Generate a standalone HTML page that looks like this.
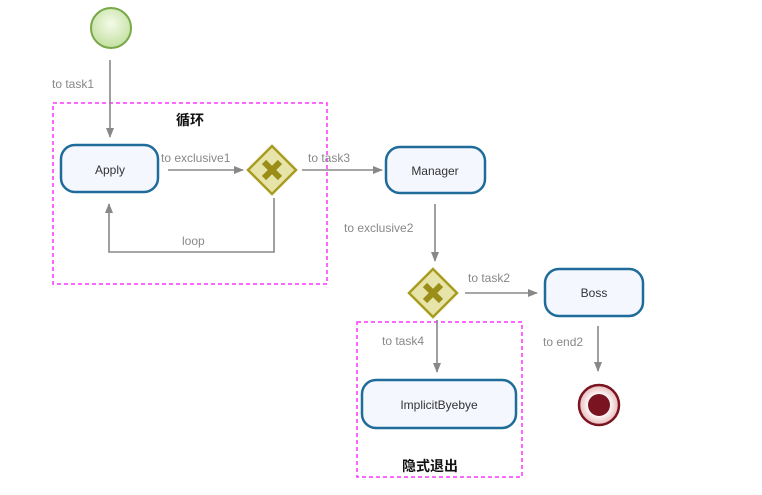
<!DOCTYPE html>
<html><head><style>body{margin:0;background:#fff}svg{display:block}</style></head><body>
<svg width="762" height="495" xmlns="http://www.w3.org/2000/svg" font-family="Liberation Sans, DejaVu Sans, sans-serif">
<defs>
<marker id="a" markerWidth="10" markerHeight="10" refX="9" refY="5" orient="auto" markerUnits="userSpaceOnUse"><path d="M0,1 L10,5 L0,9 z" fill="#888"/></marker>
<radialGradient id="gs" cx="50%" cy="40%" r="60%"><stop offset="0" stop-color="#f4fbe9"/><stop offset="1" stop-color="#c3e0a0"/></radialGradient>
<radialGradient id="ge" cx="50%" cy="50%" r="50%"><stop offset="0.5" stop-color="#fff"/><stop offset="1" stop-color="#e8b9b9"/></radialGradient>
</defs>
<g fill="none" stroke="#ff33ff" stroke-width="1.5" stroke-dasharray="4,3">
<rect x="53" y="103" width="274" height="181"/>
<rect x="357" y="322" width="165" height="155"/>
</g>
<g stroke="#888" stroke-width="1.6" fill="none" marker-end="url(#a)">
<line x1="110" y1="60" x2="110" y2="137"/>
<line x1="168" y1="170" x2="243" y2="170"/>
<line x1="302" y1="170" x2="382" y2="170"/>
<line x1="435" y1="204" x2="435" y2="261"/>
<line x1="465" y1="293" x2="537" y2="293"/>
<line x1="437" y1="320" x2="437" y2="372"/>
<line x1="598" y1="326" x2="598" y2="371"/>
<polyline points="274,198 274,252 109,252 109,204"/>
</g>
<circle cx="111" cy="28" r="20" fill="url(#gs)" stroke="#78a848" stroke-width="2"/>
<g fill="#f5f7ff" stroke="#1f6b9a" stroke-width="2.5">
<rect x="61" y="145" width="97" height="47" rx="14"/>
<rect x="386" y="147" width="99" height="46" rx="14"/>
<rect x="545" y="269" width="98" height="47" rx="14"/>
<rect x="362" y="380" width="154" height="48" rx="14"/>
</g>
<g>
<path d="M272,146 L296,170 L272,194 L248,170z" fill="#e6e4a8" stroke="#a89c20" stroke-width="2.5"/>
<path d="M264,162 L280,178 M280,162 L264,178" stroke="#9a8d18" stroke-width="6"/>
<path d="M433,269 L457,293 L433,317 L409,293z" fill="#e6e4a8" stroke="#a89c20" stroke-width="2.5"/>
<path d="M425,285 L441,301 M441,285 L425,301" stroke="#9a8d18" stroke-width="6"/>
</g>
<circle cx="599" cy="405" r="20" fill="url(#ge)" stroke="#7a1420" stroke-width="2.5"/>
<circle cx="599" cy="405" r="11" fill="#7a1420"/>
<g font-size="12" fill="#333" text-anchor="middle">
<text x="110" y="174">Apply</text>
<text x="435" y="175">Manager</text>
<text x="594" y="297">Boss</text>
<text x="439" y="409">ImplicitByebye</text>
</g>
<g font-size="12" fill="#888">
<text x="52" y="88">to task1</text>
<text x="161" y="162">to exclusive1</text>
<text x="308" y="162">to task3</text>
<text x="344" y="232">to exclusive2</text>
<text x="182" y="245">loop</text>
<text x="468" y="282">to task2</text>
<text x="382" y="345">to task4</text>
<text x="543" y="346">to end2</text>
</g>
<g font-size="14" font-weight="bold" fill="#111" font-family="Liberation Sans, Noto Sans CJK SC, sans-serif" text-anchor="middle">
<text x="190" y="125">循环</text>
<text x="430" y="471">隐式退出</text>
</g>
</svg>
</body></html>
